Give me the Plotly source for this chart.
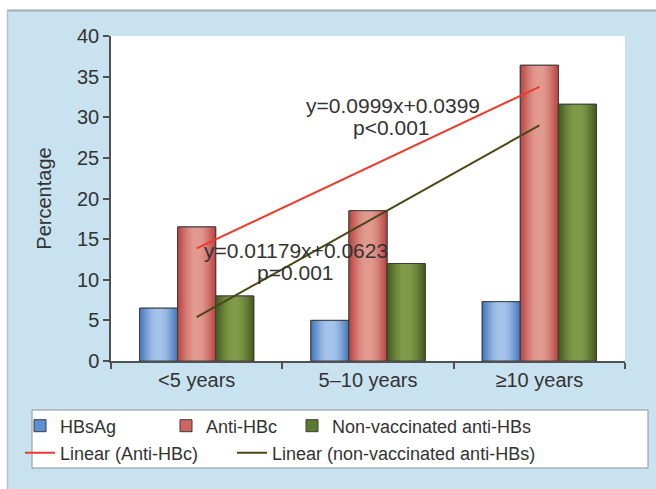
import numpy as np
import plotly.graph_objects as go

# ---- data -------------------------------------------------------------
categories = ["<5 years", "5–10 years", "≥10 years"]
hbsag = [6.5, 5.0, 7.3]
anti_hbc = [16.5, 18.5, 36.4]
nonvacc_anti_hbs = [8.0, 12.0, 31.6]

series_names = ["HBsAg", "Anti-HBc", "Non-vaccinated anti-HBs"]
trend_names = ["Linear (Anti-HBc)", "Linear (non-vaccinated anti-HBs)"]
eq_red = ["y=0.0999x+0.0399", "p&lt;0.001"]
eq_green = ["y=0.01179x+0.0623", "p=0.001"]

# ---- styling ----------------------------------------------------------
FONT = "Liberation Sans, Arial, sans-serif"
TXT = "#333333"
AXIS = "#505050"
OUTLINE = "#3c3c3c"
PANEL = "#c9e2ef"

# (edge colour, centre colour, legend swatch colour) of the shaded bars
bar_shades = [
    ("#4a7cbe", "#a6c4ea", "#5d8fd2"),
    ("#bd4a47", "#e19a91", "#d0645f"),
    ("#485f22", "#809c4a", "#5a7a2e"),
]
trend_colors = ["#ea3b2c", "#4b4714"]

W = 2 / 9            # bar width in category units
N_RINGS = 12         # nested layers used for the cylinder shading


def hex_rgb(h):
    h = h.lstrip("#")
    return [int(h[i:i + 2], 16) for i in (0, 2, 4)]


def mix(c1, c2, t):
    a, b = hex_rgb(c1), hex_rgb(c2)
    return "rgb({},{},{})".format(*[round(a[i] + (b[i] - a[i]) * t) for i in range(3)])


fig = go.Figure()

values = [hbsag, anti_hbc, nonvacc_anti_hbs]
for i, (vals, name) in enumerate(zip(values, series_names)):
    edge, centre, swatch = bar_shades[i]
    left = -1 / 3 + i * W
    mid = left + W / 2
    # legend-bearing base bar
    fig.add_trace(go.Bar(
        x=categories, y=vals, name=name, offset=left, width=W,
        marker=dict(color=swatch, line=dict(color=OUTLINE, width=1)),
        legend="legend" if i == 0 else f"legend{i + 1}",
        hoverinfo="skip",
    ))
    # nested narrower bars, lighter toward the middle
    for k in range(N_RINGS):
        f = k / N_RINGS
        w = W * (1 - 0.9 * f)
        fig.add_trace(go.Bar(
            x=categories, y=vals, offset=mid - w / 2, width=w,
            marker=dict(color=mix(edge, centre, np.sin(np.pi / 2 * f) ** 1.2),
                        line=dict(width=0)),
            showlegend=False, hoverinfo="skip",
        ))
    # crisp outline on top
    fig.add_trace(go.Bar(
        x=categories, y=vals, offset=left, width=W,
        marker=dict(color="rgba(0,0,0,0)", line=dict(color=OUTLINE, width=1)),
        showlegend=False, hoverinfo="skip",
    ))

# linear trend lines fitted to the anti-HBc and non-vaccinated anti-HBs series
xs = np.arange(1, len(categories) + 1)
for j, vals in enumerate([anti_hbc, nonvacc_anti_hbs]):
    slope, icpt = np.polyfit(xs, vals, 1)
    fig.add_trace(go.Scatter(
        x=[categories[0], categories[-1]],
        y=[slope * xs[0] + icpt, slope * xs[-1] + icpt],
        mode="lines", name=trend_names[j],
        line=dict(color=trend_colors[j], width=2),
        legend=f"legend{4 + j}", hoverinfo="skip",
    ))

# ---- layout geometry (pixels) -----------------------------------------
FW, FH = 656, 489
L, R, T, B = 111, 31, 36, 128
PW, PH = FW - L - R, FH - T - B


def px(xp):
    return (xp - L) / PW


def py(yp):
    return (FH - B - yp) / PH


legend_pos = [(20, 426), (166, 426), (292, 426), (20, 453), (232, 453)]
legends = {}
for n, (lx, ly) in enumerate(legend_pos):
    key = "legend" if n == 0 else f"legend{n + 1}"
    legends[key] = dict(
        x=px(lx), y=py(ly), xanchor="left", yanchor="middle",
        orientation="h", bgcolor="rgba(0,0,0,0)", borderwidth=0,
        itemwidth=30, font=dict(family=FONT, size=18, color=TXT),
        tracegroupgap=0,
    )

shapes = [
    # white margin above and left of the panel
    dict(type="rect", xref="paper", yref="paper", x0=px(0), x1=px(FW),
         y0=py(10), y1=py(0), fillcolor="white", line=dict(width=0), layer="below"),
    dict(type="rect", xref="paper", yref="paper", x0=px(0), x1=px(7),
         y0=py(FH), y1=py(0), fillcolor="white", line=dict(width=0), layer="below"),
    # panel border
    dict(type="line", xref="paper", yref="paper", x0=px(7), x1=px(FW),
         y0=py(10.5), y1=py(10.5), line=dict(color="#a3abb2", width=2)),
    dict(type="line", xref="paper", yref="paper", x0=px(7.5), x1=px(7.5),
         y0=py(10), y1=py(FH), line=dict(color="#b5c3cc", width=1.5)),
    # legend frame
    dict(type="rect", xref="paper", yref="paper", x0=px(32), x1=px(648),
         y0=py(468), y1=py(410), fillcolor="white",
         line=dict(color="#8c9296", width=1), layer="below"),
]

annotations = []
for (ax, ay), text in zip([(393, 105), (391, 127), (295.5, 250), (295, 272)],
                          eq_red + eq_green):
    annotations.append(dict(
        x=px(ax), y=py(ay), xref="paper", yref="paper", text=text,
        showarrow=False, xanchor="center", yanchor="middle",
        font=dict(family=FONT, size=21, color=TXT),
    ))

fig.update_layout(
    width=FW, height=FH,
    margin=dict(l=L, r=R, t=T, b=B, pad=0),
    paper_bgcolor=PANEL, plot_bgcolor="white",
    barmode="overlay",
    font=dict(family=FONT, size=20, color=TXT),
    xaxis=dict(
        type="category", range=[-0.5, 2.5], showline=True, linecolor=AXIS,
        linewidth=1.5, ticks="outside", tickson="boundaries", ticklen=6,
        tickcolor=AXIS, tickwidth=1.5, showgrid=False, zeroline=False,
        tickfont=dict(family=FONT, size=20, color=TXT),
    ),
    yaxis=dict(
        range=[0, 40], dtick=5, showline=True, linecolor=AXIS, linewidth=1.5,
        ticks="outside", ticklen=6, tickcolor=AXIS, tickwidth=1.5,
        showgrid=False, zeroline=False,
        tickfont=dict(family=FONT, size=20, color=TXT),
        title=dict(text="Percentage", font=dict(family=FONT, size=20, color=TXT),
                   standoff=20),
    ),
    shapes=shapes,
    annotations=annotations,
    **legends,
)

fig.write_html("out.html")
